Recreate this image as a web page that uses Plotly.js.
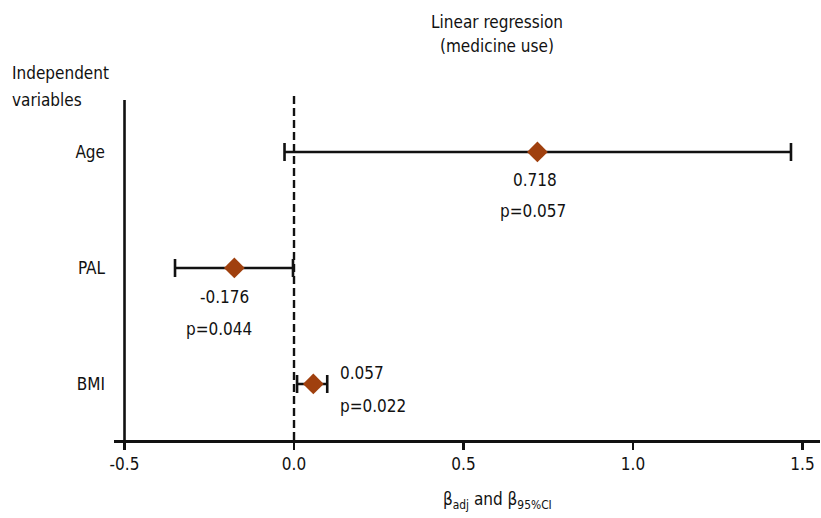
<!DOCTYPE html>
<html>
<head>
<meta charset="utf-8">
<script src="https://cdn.plot.ly/plotly-3.0.1.min.js"></script>
<style>html,body{margin:0;padding:0;background:#fff;}#chart{width:821px;height:518px;}</style>
</head>
<body>
<div id="chart"></div>
<script>
// Data
var variables = ['Age', 'PAL', 'BMI'];
var yPos = [2, 1, 0];
var beta = [0.718, -0.176, 0.057];
var ciLow = [-0.028, -0.351, 0.009];
var ciHigh = [1.466, -0.003, 0.098];
var pValues = ['0.057', '0.044', '0.022'];
var xTicks = [-0.5, 0, 0.5, 1.0, 1.5];
var xTickText = ['-0.5', '0.0', '0.5', '1.0', '1.5'];
var titleLines = ['Linear regression', '(medicine use)'];
var yTitleLines = ['Independent', 'variables'];

var FONT = '"DejaVu Sans Condensed", "Liberation Sans Narrow", sans-serif';

var trace = {
  type: 'scatter',
  mode: 'markers',
  x: beta,
  y: yPos,
  marker: {symbol: 'diamond', size: 16, color: '#A0400E', line: {width: 0}},
  error_x: {
    type: 'data',
    symmetric: false,
    array: beta.map(function (b, i) { return ciHigh[i] - b; }),
    arrayminus: beta.map(function (b, i) { return b - ciLow[i]; }),
    color: '#111', thickness: 2.6, width: 9
  },
  hoverinfo: 'none',
  cliponaxis: false
};

// label offsets (pixels) relative to each point
var betaOff = [{xs: -2, ys: -28, xa: 'center'}, {xs: -10, ys: -29, xa: 'center'}, {xs: 25, ys: 11, xa: 'left'}];
var pOff = [{xs: -4, ys: -59, xa: 'center'}, {xs: -15, ys: -61, xa: 'center'}, {xs: 25, ys: -22, xa: 'left'}];

var txtFont = {family: FONT, size: 17, color: '#111'};
var annotations = [];
for (var i = 0; i < variables.length; i++) {
  annotations.push({x: beta[i], y: yPos[i], xref: 'x', yref: 'y', text: beta[i].toFixed(3),
    showarrow: false, xanchor: betaOff[i].xa, yanchor: 'middle', xshift: betaOff[i].xs, yshift: betaOff[i].ys,
    font: txtFont});
  annotations.push({x: beta[i], y: yPos[i], xref: 'x', yref: 'y', text: 'p=' + pValues[i],
    showarrow: false, xanchor: pOff[i].xa, yanchor: 'middle', xshift: pOff[i].xs, yshift: pOff[i].ys,
    font: txtFont});
}
var titleShift = [78, 54];
titleLines.forEach(function (t, k) {
  annotations.push({xref: 'paper', yref: 'paper', x: 0.5425, y: 1.0, yshift: titleShift[k], xanchor: 'center', yanchor: 'middle',
    text: t, showarrow: false, font: txtFont});
});
var yTitleShift = [27, 0];
yTitleLines.forEach(function (t, k) {
  annotations.push({xref: 'paper', yref: 'paper', x: -0.147, y: 1.0, yshift: yTitleShift[k], xanchor: 'left', yanchor: 'middle',
    text: t, showarrow: false, font: txtFont});
});
annotations.push({xref: 'paper', yref: 'paper', x: 0.5425, y: 0, yshift: -60, xanchor: 'center', yanchor: 'middle',
  text: 'β<sub>adj</sub> and β<sub>95%CI</sub>', showarrow: false, font: txtFont});

var layout = {
  width: 821, height: 518,
  margin: {l: 114, r: 1, t: 100, b: 78},
  paper_bgcolor: '#fff', plot_bgcolor: '#fff',
  showlegend: false,
  font: txtFont,
  xaxis: {
    range: [-0.531, 1.5516], showgrid: false, zeroline: false,
    showline: true, linecolor: '#111', linewidth: 2.5,
    ticks: 'outside', ticklen: 7, tickwidth: 2.2, tickcolor: '#111',
    tickvals: xTicks, ticktext: xTickText,
    tickfont: txtFont
  },
  yaxis: {
    range: [-0.483, 2.448], showgrid: false, zeroline: false, showline: false,
    tickvals: yPos, ticktext: variables, ticks: '', ticklabelstandoff: 8,
    tickfont: txtFont
  },
  shapes: [
    {type: 'line', xref: 'x', yref: 'paper', x0: -0.5, x1: -0.5, y0: -0.022, y1: 1.0,
      line: {color: '#111', width: 2.6}},
    {type: 'line', xref: 'x', yref: 'paper', x0: 0, x1: 0, y0: 0, y1: 1.013,
      line: {color: '#111', width: 2.4, dash: '8px,4px'}}
  ],
  annotations: annotations
};

Plotly.newPlot('chart', [trace], layout, {displayModeBar: false, staticPlot: true});
</script>
</body>
</html>
